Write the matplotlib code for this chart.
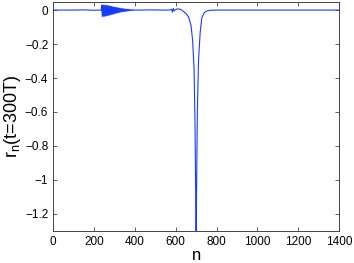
import numpy as np
import matplotlib
matplotlib.use('Agg')
import matplotlib.pyplot as plt

plt.rcParams['font.family'] = ['Liberation Sans', 'DejaVu Sans']

# flat part before the packet
n_avant = [0, 100, 150, 200, 230, 236]
r_avant = [0.0, 0.0, 0.001, -0.001, 0.0, 0.0]

# oscillating packet (n = 238, 241, 244, ...)
n_paquet = list(range(238, 404, 3))
r_paquet = [0.028, -0.038, 0.030, -0.036, 0.029, -0.037, 0.027, -0.034,
            0.028, -0.033, 0.025, -0.031, 0.026, -0.029, 0.022, -0.027,
            0.021, -0.025, 0.019, -0.023, 0.018, -0.021, 0.016, -0.019,
            0.015, -0.017, 0.013, -0.015, 0.012, -0.013, 0.011, -0.012,
            0.009, -0.010, 0.008, -0.009, 0.007, -0.008, 0.006, -0.007,
            0.005, -0.006, 0.004, -0.005, 0.004, -0.004, 0.003, -0.003,
            0.002, -0.002, 0.002, -0.002, 0.001, -0.001, 0.001, 0.0]

# small wiggle, then the dip around n = 700
n_creux = [420, 480, 540, 570, 580, 584, 588, 592, 596, 605, 615, 625,
           635, 650, 663, 675, 683, 690, 695, 698, 700, 702, 706, 712,
           720, 728, 740, 753, 770, 800, 1000, 1200, 1400]
r_creux = [0.0, 0.001, 0.0, 0.0, 0.004, -0.012, 0.01, -0.006, 0.0,
           0.006, 0.007, 0.003, -0.005, -0.02, -0.04, -0.09, -0.18, -0.35,
           -0.7, -1.1, -1.6, -1.1, -0.6, -0.29, -0.13, -0.045, -0.015,
           -0.005, -0.001, 0.0, 0.0, 0.0, 0.0]

n = n_avant + n_paquet + n_creux
r = r_avant + r_paquet + r_creux

fig = plt.figure(figsize=(3.54, 2.63), dpi=100)
ax = fig.add_axes([0.150, 0.122, 0.808, 0.872])
ax.plot(n, r, color='#1a3cff', lw=0.8)

ax.set_xlim(0, 1400)
ax.set_ylim(-1.3, 0.05)
ax.set_xticks(range(0, 1401, 200))
ax.set_yticks([0, -0.2, -0.4, -0.6, -0.8, -1, -1.2])
ax.set_yticklabels(['0', '\u22120.2', '\u22120.4', '\u22120.6', '\u22120.8', '\u22121', '\u22121.2'])
ax.tick_params(direction='in', length=3, labelsize=8.5, top=True, right=True,
               color='#444444', width=0.6)
for s in ax.spines.values():
    s.set_color('#444444')
    s.set_linewidth(0.7)

ax.set_xlabel('n', fontsize=12, labelpad=0)
ax.set_ylabel('r$_\\mathregular{n}$(t=300T)', fontsize=13, labelpad=1)

plt.savefig('out.png', dpi=100)
